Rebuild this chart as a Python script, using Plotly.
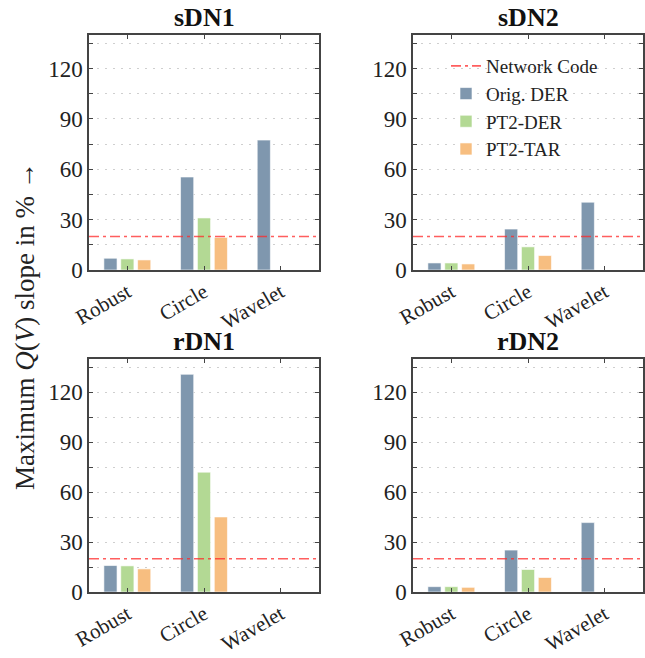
import plotly.graph_objects as go

categories = ["Robust", "Circle", "Wavelet"]
panels = ["sDN1", "sDN2", "rDN1", "rDN2"]
series_names = ["Orig. DER", "PT2-DER", "PT2-TAR"]

orig_der = {
    "sDN1": [7.0, 55.4, 77.4],
    "sDN2": [4.2, 24.4, 40.4],
    "rDN1": [15.9, 130.8, 0.0],
    "rDN2": [3.2, 25.2, 41.7],
}
pt2_der = {
    "sDN1": [6.6, 31.0, 0.0],
    "sDN2": [4.2, 13.8, 0.0],
    "rDN1": [15.7, 72.0, 0.0],
    "rDN2": [3.2, 13.5, 0.0],
}
pt2_tar = {
    "sDN1": [6.0, 19.4, 0.0],
    "sDN2": [3.6, 8.6, 0.0],
    "rDN1": [13.9, 45.1, 0.0],
    "rDN2": [2.8, 8.7, 0.0],
}
network_code = 20
y_ticks = [0, 30, 60, 90, 120]

colors = ["#7f97ae", "#b3d994", "#f7be80"]
W, H = 645, 658
FONT = "Liberation Serif"

def px_x(a, b):
    return [a / W, b / W]

def px_y(top, bottom):
    return [(H - bottom) / H, (H - top) / H]

domains = {
    "sDN1": (px_x(89, 319), px_y(35, 270)),
    "sDN2": (px_x(413, 643), px_y(35, 270)),
    "rDN1": (px_x(89, 319), px_y(359, 592)),
    "rDN2": (px_x(413, 643), px_y(359, 592)),
}

fig = go.Figure()
layout = {}
annotations = []
x_idx = [0, 1, 2]

for i, p in enumerate(panels):
    n = "" if i == 0 else str(i + 1)
    xa, ya = "x" + n, "y" + n
    data = [orig_der[p], pt2_der[p], pt2_tar[p]]
    fig.add_trace(go.Scatter(
        x=[-0.5, 2.5], y=[network_code, network_code], mode="lines",
        line=dict(color="rgba(255,40,40,0.75)", width=1.6, dash="10px,4px,3px,4px"),
        name="Network Code", showlegend=(i == 1), xaxis=xa, yaxis=ya,
        legendrank=1))
    for k, s in enumerate(series_names):
        fig.add_trace(go.Bar(
            x=x_idx, y=data[k], name=s, marker=dict(color=colors[k],
            line=dict(color="rgba(255,255,255,0.6)", width=1)),
            showlegend=(i == 1), xaxis=xa, yaxis=ya, offsetgroup=str(k),
            legendrank=2 + k))
    dx, dy = domains[p]
    axis_common = dict(showline=True, linecolor="#444", linewidth=1.5,
                       mirror="ticks", ticks="inside", ticklen=4,
                       tickcolor="#444", zeroline=False, automargin=False)
    layout["xaxis" + n] = dict(domain=dx, anchor=ya, range=[-0.5, 2.5],
                               tickvals=x_idx, ticktext=categories,
                               tickangle=-30, showgrid=False,
                               tickfont=dict(family=FONT, size=21, color="#222"),
                               **axis_common)
    layout["yaxis" + n] = dict(domain=dy, anchor=xa, range=[0, 140],
                               tickvals=y_ticks, showgrid=True,
                               gridcolor="#cfcfcf", griddash="2px,6px", gridwidth=1,
                               minor=dict(dtick=15, tick0=0, ticks="inside", ticklen=4,
                                          tickcolor="#444", showgrid=True,
                                          gridcolor="#cfcfcf", griddash="2px,6px"),
                               tickfont=dict(family=FONT, size=23, color="#222"),
                               **axis_common)
    annotations.append(dict(text="<b>%s</b>" % p, x=(dx[0] + dx[1]) / 2,
                            y=dy[1], xref="paper", yref="paper",
                            xanchor="center", yanchor="bottom", yshift=1,
                            showarrow=False,
                            font=dict(family=FONT, size=26, color="#111")))

annotations.append(dict(text="Maximum <i>Q</i>(<i>V</i>) slope in % →",
                        x=25 / W, y=(H - 326) / H, xref="paper", yref="paper",
                        xanchor="center", yanchor="middle", textangle=-90,
                        showarrow=False,
                        font=dict(family=FONT, size=27, color="#222")))

fig.update_layout(
    width=W, height=H, margin=dict(l=0, r=0, t=0, b=0, autoexpand=False),
    paper_bgcolor="white", plot_bgcolor="white",
    barmode="group", bargap=0.34, bargroupgap=0.22,
    annotations=annotations,
    legend=dict(x=446 / W, y=(H - 47) / H, xanchor="left", yanchor="top",
                bgcolor="rgba(255,255,255,0)", tracegroupgap=0,
                font=dict(family=FONT, size=19, color="#222"),
                itemwidth=30),
    **layout,
)

fig.write_html(
    "out.html",
    config={"displayModeBar": False},
    post_script="document.body.style.margin='0';document.body.style.overflow='hidden';",
)
